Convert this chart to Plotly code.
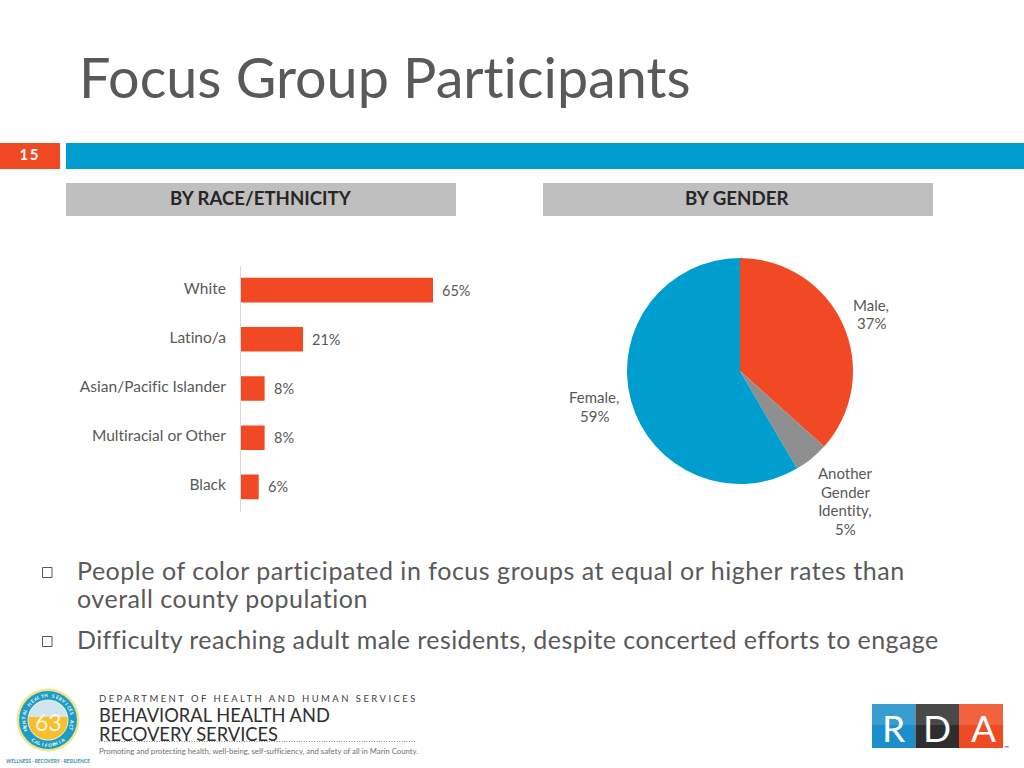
import math
import plotly.graph_objects as go

W, H = 1024, 768
race_labels = ["White", "Latino/a", "Asian/Pacific Islander", "Multiracial or Other", "Black"]
race_values = [65, 21, 8, 8, 6]
gender_labels = ["Male", "Another Gender Identity", "Female"]
gender_values = [37, 5, 59]
gender_lines = [["Male,", "37%"], ["Another", "Gender", "Identity,", "5%"], ["Female,", "59%"]]
gender_text_pos = [(871, 305), (845, 473), (594, 397)]
bullet_1 = "People of color participated in focus groups at equal or higher rates than<br>overall county population"
bullet_2 = "Difficulty reaching adult male residents, despite concerted efforts to engage"

RED, BLUE, GREY, TXT = "#F04923", "#009DCF", "#BFBFBF", "#595959"
FONT = "Lato"
def px(x): return x / W
def py(y): return 1 - y / H

shapes, ann = [], []
def rect(x0, y0, x1, y1, fill, line=None, lw=0, kind="rect"):
    shapes.append(dict(type=kind, xref="paper", yref="paper", x0=px(x0), x1=px(x1), y0=py(y1), y1=py(y0),
                       fillcolor=fill, line=dict(color=line or fill, width=lw), layer="below"))
def text(x, y, s, size, color=TXT, anchor="left", family=FONT, weight=None, angle=0):
    ann.append(dict(xref="paper", yref="paper", x=px(x), y=py(y), text=s, showarrow=False, xanchor=anchor, yanchor="middle",
                    align=anchor, textangle=angle, font=dict(size=size, color=color, family=family, weight=weight),
                    borderpad=0, borderwidth=0))

rect(0, 143, 60, 169, RED)
rect(66, 143, 1024, 169, BLUE)
rect(66, 183, 456, 216, GREY)
rect(543, 183, 933, 216, GREY)
text(79, 77, "Focus Group Participants", 55.7)
text(29, 154, "<b>15</b>", 15, "white", "center")
text(261, 198, "<b>BY RACE/ETHNICITY</b>", 18.6, "#262626", "center")
text(737, 198, "<b>BY GENDER</b>", 18.7, "#262626", "center")

rect(42.5, 567.5, 52, 577.5, "white", "#595959", 1)
rect(42.5, 636.5, 52, 646.5, "white", "#595959", 1)
text(77, 586.5, bullet_1, 25)
text(77, 639, bullet_2, 25)

# bar value labels, bound to the bar axes
for c, v in zip(race_labels, race_values):
    ann.append(dict(xref="x", yref="y", x=v, y=c, text=f"{v}%", showarrow=False, xanchor="left", xshift=7, yshift=0,
                    font=dict(size=14.5, color=TXT, family=FONT)))
for lines, (x, y) in zip(gender_lines, gender_text_pos):
    for i, s in enumerate(lines):
        text(x, y + i * 18.5, s, 15, TXT, "center")

# footer: department block
text(99, 698, "DEPARTMENT OF HEALTH AND HUMAN SERVICES", 9.5, "#404040")
text(99, 727, "BEHAVIORAL HEALTH AND<br>RECOVERY SERVICES", 18.3, "#303030")
text(99, 751, "Promoting and protecting health, well-being, self-sufficiency, and safety of all in Marin County.", 7.75, "#707070")
shapes.append(dict(type="line", xref="paper", yref="paper", x0=px(99), x1=px(416), y0=py(741.5), y1=py(741.5),
                   line=dict(color="#707070", width=0.8, dash="1px,1.5px")))
# seal
cx, cy = 48, 720
def disc(r, c): rect(cx - r, cy - r, cx + r, cy + r, c, None, 0, "circle")
disc(31.5, "#F2E68A")
disc(29, "#1E9CC4")
disc(20.5, "#F5EFC0")
disc(19.5, "#CFE6EE")
a0 = math.asin(-3 / 19.5)
pts = [(cx + 19.5 * math.cos(a0 + (math.pi - 2 * a0) * i / 24), cy + 19.5 * math.sin(a0 + (math.pi - 2 * a0) * i / 24)) for i in range(25)]
shapes.append(dict(type="path", xref="paper", yref="paper", layer="below", fillcolor="#F7BE2E", line=dict(width=0),
                   path="M " + " L ".join(f"{px(x)} {py(y)}" for x, y in pts) + " Z"))
text(48, 722, "63", 23, "#FFF6D8", "center")
text(48, 761, "WELLNESS · RECOVERY · RESILIENCE", 4.9, "#3D8FA8", "center", weight=700)
seal_top = "MENTAL HEALTH SERVICES ACT"
seal_bottom = "CALIFORNIA"
for i, ch in enumerate(seal_top):
    th = -112 + 224 * i / (len(seal_top) - 1)
    if ch != " ":
        text(cx + 24.7 * math.sin(math.radians(th)), cy - 24.7 * math.cos(math.radians(th)), ch, 4.6, "white", "center", weight=700, angle=th)
for i, ch in enumerate(seal_bottom):
    th = -36 + 72 * i / (len(seal_bottom) - 1)
    text(cx + 24.7 * math.sin(math.radians(th)), cy + 24.7 * math.cos(math.radians(th)), ch, 4.6, "white", "center", weight=700, angle=-th)
# RDA logo
rect(872, 704, 915.5, 748, "#1B8FCB")
rect(915.5, 704, 959, 748, "#2E2E2E")
rect(959, 704, 1003, 748, "#EF4B23")
rect(872, 704, 1003, 725, "rgba(255,255,255,0.13)")
for x, l in zip((893, 937, 983), "RDA"):
    text(x, 727, l, 37, "white", "center")
text(1006, 747, "™", 6, "#404040", "center")

fig = go.Figure()
fig.add_trace(go.Bar(x=race_values, y=race_labels, orientation="h", marker=dict(color=RED, line=dict(width=0)),
                     xaxis="x", yaxis="y", showlegend=False))
fig.add_trace(go.Pie(labels=gender_labels, values=gender_values, sort=False, direction="clockwise", rotation=0,
                     marker=dict(colors=[RED, "#8F8F8F", BLUE], line=dict(width=0)), textinfo="none", showlegend=False,
                     domain=dict(x=[px(627), px(853)], y=[py(484), py(258)])))
fig.update_layout(
    width=W, height=H, margin=dict(l=0, r=0, t=0, b=0, pad=0), paper_bgcolor="white", plot_bgcolor="white",
    bargap=0.5, showlegend=False, shapes=shapes, annotations=ann, font=dict(family=FONT, color=TXT),
    xaxis=dict(domain=[px(241), px(241 + 70 * 192 / 65)], range=[0, 70], visible=False, fixedrange=True),
    yaxis=dict(domain=[py(511.5), py(265.5)], autorange="reversed", showline=True, linecolor="#D9D9D9", linewidth=1,
               ticks="", showgrid=False, ticklabelstandoff=11, tickfont=dict(size=15.5, color=TXT, family=FONT), fixedrange=True),
)
post = """
document.documentElement.style.margin='0';document.body.style.margin='0';
document.querySelectorAll('svg text').forEach(function(t){t.style.fontVariantLigatures='none';});
function lead(t,v){t.querySelectorAll('tspan.line').forEach(function(l,i){if(i>0){l.setAttribute('dy',v);}});}
document.querySelectorAll('.annotation-text').forEach(function(t){
  var s=t.textContent;
  if(s.indexOf('DEPARTMENT')===0){t.style.letterSpacing='2.45px';}
  if(s.indexOf('People of')===0){t.style.letterSpacing='0.53px';lead(t,'27.5px');}
  if(s.indexOf('BEHAVIORAL')===0){lead(t,'19px');}
  if(s.indexOf('Difficulty')===0){t.style.letterSpacing='0.42px';}
  if(s==='15'){t.style.letterSpacing='1.5px';}
});
document.querySelectorAll('.ytick text').forEach(function(t){t.setAttribute('dy','-2');});
"""
fig.write_html("out.html", post_script=post, config=dict(displayModeBar=False))
